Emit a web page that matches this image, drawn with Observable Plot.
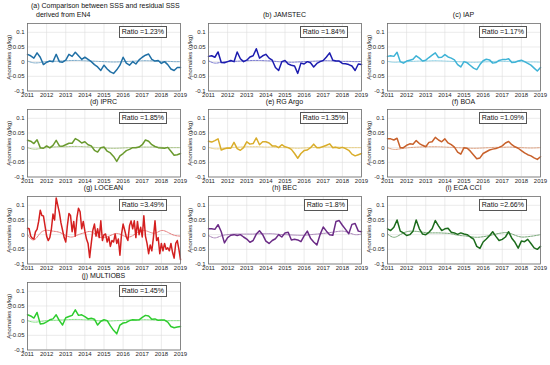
<!DOCTYPE html>
<html><head><meta charset="utf-8">
<script src="https://cdn.jsdelivr.net/npm/d3@7"></script>
<script src="https://cdn.jsdelivr.net/npm/@observablehq/plot@0.6"></script>
<style>
body{margin:0;background:#fff;}
#root{position:relative;width:550px;height:365px;font-family:"Liberation Sans",Arial,sans-serif;overflow:hidden;background:#fff}
.panel{position:absolute;width:180px}
.panel svg{display:block;overflow:visible}
.title{position:absolute;font-size:7px;color:#111;white-space:nowrap;line-height:8px}
.ratio{position:absolute;font-size:7px;color:#111;border:0.8px solid #555;background:#fff;padding:1px 2px 1px 2px;line-height:8px;white-space:nowrap}
</style></head><body><div id="root"></div>
<script>
// ---- data ----
const years = [2011, 2012, 2013, 2014, 2015, 2016, 2017, 2018, 2019];
const yTicks = [-0.1, -0.05, 0, 0.05, 0.1];
const titles = ["(a) Comparison between SSS and residual SSS", "(b) JAMSTEC", "(c) IAP", "(d) IPRC", "(e) RG Argo", "(f) BOA", "(g) LOCEAN", "(h) BEC", "(i) ECA CCI", "(j) MULTIOBS"];
const subtitleA = "derived from EN4";
const ratios = ["1.23%", "1.84%", "1.17%", "1.85%", "1.35%", "1.09%", "3.49%", "1.8%", "2.66%", "1.45%"];

const EN4 = [0.025,0.02,0.012,0.03,0.015,-0.01,-0.002,0.002,0.0,0.025,0.0,-0.002,0.005,0.025,0.018,0.032,0.02,0.008,0.015,0.008,0.0,-0.01,-0.018,-0.03,-0.012,-0.025,-0.035,-0.04,-0.028,-0.012,0.015,-0.005,-0.012,0.0,-0.008,0.006,0.015,0.022,0.026,0.008,0.002,0.004,-0.006,0.0,-0.01,-0.025,-0.03,-0.02,-0.02];
const JAMSTEC = [0.018,0.02,0.015,0.033,-0.003,-0.004,0.0,0.004,0.0,0.033,0.01,0.0,0.005,0.016,0.02,0.044,0.012,0.02,0.025,0.012,0.005,-0.02,-0.03,0.0,0.004,-0.008,-0.012,-0.015,-0.04,-0.005,-0.008,0.0,-0.004,-0.018,-0.006,0.0,0.004,0.016,0.03,0.005,0.002,0.002,-0.006,-0.007,-0.01,-0.015,-0.03,-0.008,-0.01];
const IAP = [0.018,0.02,0.018,0.032,0.0,-0.005,0.002,0.005,0.008,0.02,0.012,0.002,0.005,0.014,0.022,0.03,0.014,0.015,0.024,0.016,0.012,0.006,-0.01,-0.018,0.0,-0.004,-0.013,-0.022,-0.027,-0.01,0.003,0.008,0.006,-0.005,-0.003,0.004,0.007,0.007,0.01,-0.003,-0.002,0.002,0.005,0.0,-0.006,-0.012,-0.022,-0.032,-0.02];
const IPRC = [0.025,0.022,0.014,0.027,0.0,-0.002,0.006,-0.001,0.008,0.025,0.006,0.005,0.01,0.015,0.015,0.031,0.025,0.016,0.02,0.01,0.006,-0.009,-0.015,0.0,0.002,-0.012,-0.018,-0.03,-0.047,-0.028,-0.02,-0.01,-0.006,0.0,0.0,0.002,0.01,0.026,0.022,0.01,0.004,0.0,-0.001,-0.002,0.001,-0.012,-0.026,-0.024,-0.02];
const RGArgo = [0.022,0.019,0.024,0.03,-0.008,-0.004,-0.001,-0.002,0.018,-0.003,-0.009,0.0,0.02,0.012,0.014,0.033,0.01,0.02,0.02,0.016,0.006,0.006,0.0,0.01,0.003,0.0,-0.006,-0.02,-0.036,-0.02,-0.01,-0.008,0.0,0.012,0.0,0.0,0.004,0.008,0.013,0.0,0.001,-0.002,0.001,-0.003,-0.009,-0.022,-0.028,-0.024,-0.02];
const BOA = [0.03,0.03,0.026,0.032,0.0,0.0,0.008,0.013,0.012,0.024,0.014,0.008,0.003,0.018,0.02,0.035,0.026,0.02,0.03,0.016,0.01,0.002,-0.015,-0.022,0.0,-0.002,-0.012,-0.025,-0.038,-0.035,-0.02,-0.014,-0.008,-0.005,-0.003,0.001,0.006,0.016,0.021,0.01,0.003,-0.002,-0.01,-0.018,-0.024,-0.028,-0.035,-0.04,-0.031];
const LOCEAN = [0.022,0.02,-0.005,-0.012,-0.015,0.01,0.018,0.045,0.083,0.065,
  0.064,0.03,-0.005,-0.02,-0.01,0.02,0.07,0.05,0.125,0.1,
  0.075,0.04,0.015,-0.01,-0.025,0.03,0.072,0.065,0.01,0.045,
  -0.005,0.058,0.09,0.078,0.02,0.045,0.012,-0.015,-0.03,-0.078,
  -0.03,0.015,0.036,-0.005,0.02,-0.01,0.047,-0.02,0.0,0.002,
  -0.025,-0.008,-0.04,-0.02,-0.025,0.002,-0.03,-0.015,-0.07,0.002,
  0.036,0.015,-0.008,-0.02,0.03,0.047,0.02,0.047,-0.01,0.045,
  0.0,0.025,-0.008,0.064,-0.005,-0.03,-0.065,-0.035,-0.055,-0.01,
  0.047,-0.02,-0.01,-0.065,-0.03,-0.055,-0.03,-0.05,-0.045,-0.055,
  -0.03,-0.06,-0.08,-0.03,-0.02,-0.05,-0.085];
const BEC = [0.02,0.02,0.018,0.034,0.01,-0.028,-0.01,-0.002,0.0,-0.003,0.0,-0.008,-0.015,-0.026,-0.02,0.002,0.013,0.0,-0.022,-0.03,-0.02,-0.014,0.0,-0.008,0.006,0.008,-0.018,-0.016,-0.018,-0.024,-0.004,0.012,-0.012,-0.025,-0.035,0.0,0.026,0.012,0.0,-0.002,0.045,0.048,0.032,0.018,0.003,0.035,0.038,0.012,0.01];
const ECACCI = [0.02,0.014,0.025,0.05,0.012,0.006,-0.003,0.0,0.012,0.05,0.02,0.002,0.0,0.008,0.02,0.048,0.03,0.014,0.02,0.022,0.008,0.006,0.001,0.006,0.002,0.0,-0.008,-0.015,-0.04,-0.047,-0.025,-0.015,-0.004,0.01,-0.006,-0.02,-0.016,-0.008,0.01,-0.012,-0.026,-0.046,-0.022,-0.024,-0.016,-0.03,-0.045,-0.05,-0.04];
const MULTIOBS = [0.02,0.016,0.009,0.028,-0.011,-0.01,-0.004,0.003,0.006,0.02,0.0,-0.015,0.01,0.014,0.018,0.037,0.018,0.02,0.014,0.006,0.008,0.005,-0.015,-0.002,0.003,0.0,-0.018,-0.033,-0.045,-0.015,-0.008,-0.006,0.0,0.003,0.002,0.003,0.011,0.018,0.016,0.005,0.006,0.001,0.002,0.002,-0.005,-0.02,-0.024,-0.022,-0.02];

// residual SSS (every 4 months)
const EN4_res = [0.002,-0.004,-0.003,0.0,0.001,0.002,0.003,0.004,0.004,0.003,0.002,0.001,0.0,-0.001,-0.001,0.0,0.001,0.002,0.003,0.003,0.002,0.001,0.001,0.0,0.0];
const JAMSTEC_res = [0.003,-0.005,-0.002,0.0,0.001,0.002,0.003,0.004,0.004,0.003,0.002,0.0,-0.001,-0.002,-0.001,0.0,0.001,0.002,0.003,0.003,0.002,0.001,0.001,0.0,0.001];
const IAP_res = [0.001,-0.002,-0.001,0.0,0.001,0.002,0.002,0.003,0.003,0.002,0.001,0.0,-0.001,-0.002,-0.002,-0.001,0.0,0.001,0.001,0.001,0.001,0.0,-0.001,-0.001,-0.002];
const IPRC_res = [0.0,-0.005,-0.003,0.0,0.002,0.003,0.003,0.004,0.004,0.003,0.002,0.0,-0.001,-0.002,-0.002,-0.001,0.0,0.001,0.002,0.002,0.002,0.001,0.0,0.0,0.0];
const RGArgo_res = [0.001,-0.004,-0.003,0.0,0.001,0.002,0.003,0.003,0.003,0.002,0.002,0.001,0.0,-0.001,-0.002,-0.001,0.0,0.001,0.002,0.002,0.002,0.001,0.0,0.0,0.0];
const BOA_res = [0.0,-0.006,-0.004,-0.001,0.001,0.002,0.003,0.003,0.003,0.002,0.001,0.0,-0.001,-0.002,-0.002,-0.001,0.0,0.001,0.001,0.002,0.001,0.0,-0.001,-0.001,0.0];
const LOCEAN_res = [0.0,-0.018,0.005,0.015,0.012,0.008,-0.003,-0.008,0.0,0.007,0.01,-0.005,-0.01,-0.003,0.004,-0.003,-0.008,0.004,0.014,0.01,0.005,0.014,0.008,-0.002,-0.005];
const BEC_res = [-0.003,-0.011,-0.004,0.0,0.002,0.002,0.002,0.002,0.003,0.003,0.003,0.001,0.0,-0.001,-0.002,-0.002,0.0,0.002,0.004,0.007,0.01,0.012,0.007,0.0,0.002];
const ECACCI_res = [0.002,-0.009,0.0,0.01,0.012,0.01,0.007,0.006,0.006,0.005,0.003,-0.002,-0.004,-0.007,-0.009,-0.007,-0.003,0.002,0.006,0.006,-0.002,-0.008,-0.007,-0.004,0.0];
const MULTIOBS_res = [0.0,-0.005,-0.003,0.0,0.001,0.002,0.003,0.004,0.004,0.003,0.002,0.0,-0.001,-0.001,0.0,0.001,0.002,0.002,0.003,0.003,0.002,0.001,0.0,0.0,0.0];

const series = [EN4, JAMSTEC, IAP, IPRC, RGArgo, BOA, LOCEAN, BEC, ECACCI, MULTIOBS];
const residuals = [EN4_res, JAMSTEC_res, IAP_res, IPRC_res, RGArgo_res, BOA_res, LOCEAN_res, BEC_res, ECACCI_res, MULTIOBS_res];

// ---- styles / layout ----
const colors = ["#1f6fa5", "#1c1caf", "#3fb3d6", "#6a9a2e", "#d9ad2a", "#c8602a", "#d41f1f", "#6b2b86", "#1b6b1b", "#2ecc2e"];
const colLeft = [0, 181, 360];
const rowTop = [23, 108.6, 195.6, 282.3];
const titleY = [15, 101.5, 188, 275.5];
const FONT = '"Liberation Sans", Arial, sans-serif';
const PH = 67.5, MB = 11, ML = 27, W = 180;

const root = document.getElementById("root");
const toRows = arr => arr.map((v, i) => ({t: 2011 + i * 8 / (arr.length - 1), v}));

series.forEach((s, k) => {
  const col = k % 3, row = Math.floor(k / 3);
  const color = colors[k];
  const resColor = d3.interpolateRgb(color, "#ffffff")(0.4);
  const div = document.createElement("div");
  div.className = "panel";
  div.style.left = colLeft[col] + "px";
  div.style.top = rowTop[row] + "px";
  const chart = Plot.plot({
    width: W, height: PH + MB,
    marginLeft: ML, marginRight: 0, marginTop: 0, marginBottom: MB,
    style: {fontFamily: FONT, fontSize: "6px", color: "#262626", background: "transparent"},
    x: {domain: [2011, 2019], label: null},
    y: {domain: [-0.1, 0.13], label: null},
    marks: [
      Plot.gridX(years, {stroke: "#dedede", strokeOpacity: 1, strokeWidth: 0.6}),
      Plot.gridY(yTicks, {stroke: "#dedede", strokeOpacity: 1, strokeWidth: 0.6}),
      Plot.axisX(years, {tickSize: 0, tickPadding: 2, tickFormat: d => String(d), label: null, fontSize: 6}),
      Plot.axisY(yTicks, {tickSize: 0, tickPadding: 3, tickFormat: d => String(d), label: "Anomalies (g/kg)", labelAnchor: "center", labelOffset: 21, labelArrow: "none", fontSize: 6}),
      Plot.lineY(toRows(residuals[k]), {x: "t", y: "v", stroke: resColor, strokeWidth: 1, strokeDasharray: "2,1", curve: "natural"}),
      Plot.lineY(toRows(s), {x: "t", y: "v", stroke: color, strokeWidth: 1.5}),
      Plot.frame({stroke: "#6e6e6e", strokeWidth: 0.8})
    ]
  });
  div.appendChild(chart);

  const r = document.createElement("div");
  r.className = "ratio";
  r.textContent = "Ratio =" + ratios[k];
  r.style.right = "13px";
  r.style.top = "3px";
  div.appendChild(r);
  root.appendChild(div);

  if (k === 0) {
    const t1 = document.createElement("div");
    t1.className = "title";
    t1.textContent = titles[0];
    t1.style.left = "31px"; t1.style.top = "2px";
    const t2 = document.createElement("div");
    t2.className = "title";
    t2.textContent = subtitleA;
    t2.style.left = "36px"; t2.style.top = "11px";
    root.appendChild(t1); root.appendChild(t2);
  } else {
    const t = document.createElement("div");
    t.className = "title";
    t.textContent = titles[k];
    t.style.left = (colLeft[col] + ML) + "px";
    t.style.width = (W - ML) + "px";
    t.style.textAlign = "center";
    t.style.top = (titleY[row] - 4) + "px";
    root.appendChild(t);
  }
});
</script></body></html>
